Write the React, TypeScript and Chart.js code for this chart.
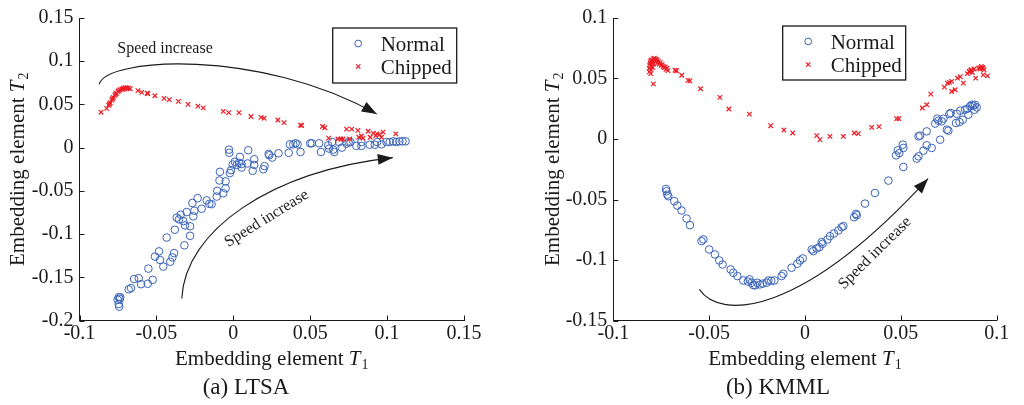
import React, { useEffect, useRef } from 'react';
import { Chart, registerables } from 'chart.js';

Chart.register(...registerables);

const SERIF = '"Liberation Serif", "Times New Roman", Times, serif';
const BLUE = '#3a63b8';
const RED = '#ec1c24';
const INK = '#1a1a1a';

type Pt = [number, number];

// ---------------- (a) LTSA ----------------
const ltsaXTicks = [-0.1, -0.05, 0, 0.05, 0.1, 0.15];
const ltsaXLabels = ['-0.1', '-0.05', '0', '0.05', '0.1', '0.15'];
const ltsaYTicks = [-0.2, -0.15, -0.1, -0.05, 0, 0.05, 0.1, 0.15];
const ltsaYLabels = ['-0.2', '-0.15', '-0.1', '-0.05', '0', '0.05', '0.1', '0.15'];

const ltsaNormal: Pt[] = [
  [-0.0745, -0.173], [-0.0738, -0.175], [-0.0745, -0.181], [-0.0742, -0.184], [-0.0735, -0.173],
  [-0.0752, -0.176], [-0.068, -0.164], [-0.0665, -0.1625], [-0.0645, -0.152], [-0.0615, -0.151],
  [-0.06, -0.158], [-0.0556, -0.1575], [-0.0524, -0.153], [-0.0552, -0.14], [-0.0509, -0.126],
  [-0.0483, -0.12], [-0.0476, -0.13], [-0.0455, -0.1376], [-0.041, -0.132], [-0.0396, -0.127],
  [-0.0385, -0.122], [-0.0433, -0.104], [-0.038, -0.095], [-0.0318, -0.113], [-0.0281, -0.102],
  [-0.0281, -0.091], [-0.0314, -0.09], [-0.0325, -0.085], [-0.0353, -0.083], [-0.0368, -0.081],
  [-0.0342, -0.0776], [-0.0303, -0.0745], [-0.026, -0.0795], [-0.0253, -0.073], [-0.0266, -0.064],
  [-0.0232, -0.0585], [-0.0206, -0.0707], [-0.0173, -0.061], [-0.0156, -0.065], [-0.0141, -0.0654],
  [-0.0108, -0.0566], [-0.0104, -0.05], [-0.0065, -0.0527], [-0.005, -0.047], [-0.009, -0.038],
  [-0.005, -0.039], [-0.0087, -0.028], [-0.0022, -0.0294], [-0.0015, -0.026], [-0.0028, -0.0023],
  [-0.0026, -0.006], [-0.0004, -0.0195], [0.001, -0.0164], [0.0022, -0.02], [0.0037, -0.0176],
  [0.0043, -0.0107], [0.0054, -0.023], [0.0054, -0.019], [0.0097, -0.003], [0.0093, -0.0183],
  [0.0126, -0.0268], [0.0136, -0.0134], [0.0136, -0.02], [0.0195, -0.025], [0.0203, -0.0214],
  [0.023, -0.0073], [0.0234, -0.0088], [0.0253, -0.0115], [0.0294, -0.0065], [0.036, -0.006],
  [0.0368, 0.0038], [0.039, 0.0038], [0.0405, 0.005], [0.0418, 0.0038], [0.0437, -0.005],
  [0.05, 0.005], [0.051, 0.005], [0.0558, 0.005], [0.057, -0.005], [0.0617, 0.0027],
  [0.0623, -0.0011], [0.0643, 0.0065], [0.065, -0.0023], [0.0656, -0.005], [0.0688, 0.0065],
  [0.0706, 0], [0.0736, 0.0046], [0.075, 0.0065], [0.0762, 0.0065], [0.08, 0.002],
  [0.0833, 0.002], [0.0833, 0.0065], [0.0887, 0.0034], [0.092, 0.0034], [0.0935, 0.0065],
  [0.0963, 0.0038], [0.0996, 0.0065], [0.1017, 0.0065], [0.104, 0.0073], [0.106, 0.0065],
  [0.108, 0.0073], [0.11, 0.0073], [0.112, 0.0073],
];

const ltsaChipped: Pt[] = [
  [-0.086, 0.041], [-0.0823, 0.0455], [-0.081, 0.049], [-0.08, 0.052], [-0.079, 0.055],
  [-0.078, 0.058], [-0.077, 0.0605], [-0.076, 0.063], [-0.075, 0.065], [-0.0736, 0.067],
  [-0.0725, 0.068], [-0.0714, 0.069], [-0.07, 0.0695], [-0.069, 0.069], [-0.068, 0.0688],
  [-0.067, 0.068], [-0.0805, 0.0505], [-0.0785, 0.0565], [-0.0765, 0.062], [-0.0745, 0.066],
  [-0.0718, 0.0675], [-0.0705, 0.068], [-0.062, 0.066], [-0.0595, 0.064], [-0.056, 0.063],
  [-0.0555, 0.0625], [-0.051, 0.06], [-0.045, 0.057], [-0.0416, 0.0555], [-0.0357, 0.0535],
  [-0.0294, 0.05], [-0.023, 0.048], [-0.0195, 0.046], [-0.0065, 0.042], [-0.003, 0.0405],
  [0.0037, 0.0405], [0.0115, 0.036], [0.018, 0.035], [0.02, 0.034], [0.029, 0.032],
  [0.033, 0.029], [0.0437, 0.026], [0.0444, 0.0256], [0.058, 0.0245], [0.0595, 0.023],
  [0.062, 0.011], [0.068, 0.01], [0.07, 0.01], [0.0714, 0.01], [0.0736, 0.0214],
  [0.077, 0.0214], [0.0757, 0.01], [0.081, 0.02], [0.0816, 0.012], [0.0833, 0.0134],
  [0.0844, 0.011], [0.0877, 0.019], [0.089, 0.012], [0.091, 0.0168], [0.0926, 0.014],
  [0.0935, 0.016], [0.095, 0.015], [0.0963, 0.012], [0.0974, 0.018], [0.1056, 0.016],
];

// ---------------- (b) KMML ----------------
const kmmlXTicks = [-0.1, -0.05, 0, 0.05, 0.1];
const kmmlXLabels = ['-0.1', '-0.05', '0', '0.05', '0.1'];
const kmmlYTicks = [-0.15, -0.1, -0.05, 0, 0.05, 0.1];
const kmmlYLabels = ['-0.15', '-0.1', '-0.05', '0', '0.05', '0.1'];

const kmmlNormal: Pt[] = [
  [-0.0725, -0.0413], [-0.0722, -0.0432], [-0.0718, -0.046], [-0.0713, -0.0473], [-0.0682, -0.0514],
  [-0.0666, -0.055], [-0.0644, -0.0591], [-0.0618, -0.0657], [-0.06, -0.0712], [-0.054, -0.0844],
  [-0.053, -0.083], [-0.05, -0.0913], [-0.047, -0.0954], [-0.0447, -0.1004], [-0.043, -0.1037],
  [-0.0388, -0.1078], [-0.0374, -0.1106], [-0.0353, -0.1133], [-0.0322, -0.1169], [-0.029, -0.116],
  [-0.0278, -0.1188], [-0.027, -0.1207], [-0.0249, -0.1188], [-0.0235, -0.1202], [-0.02, -0.1188],
  [-0.0191, -0.1169], [-0.016, -0.1169], [-0.0122, -0.1133], [-0.0113, -0.1114], [-0.007, -0.1064],
  [-0.004, -0.1031], [-0.0026, -0.1004], [-0.0012, -0.0987], [0.0035, -0.0913], [0.0043, -0.0927],
  [0.0061, -0.0905], [0.0075, -0.0894], [0.0092, -0.0866], [0.0117, -0.0831], [0.013, -0.0803],
  [0.0151, -0.0781], [0.0174, -0.0756], [0.02, -0.072], [0.0256, -0.0646], [0.027, -0.063],
  [0.0313, -0.0534], [0.0365, -0.0446], [0.0435, -0.0344], [0.0475, -0.0135], [0.0484, -0.0094],
  [0.0492, -0.0116], [0.051, -0.0047], [0.0513, -0.0074], [0.0513, -0.0231], [0.0583, -0.0162],
  [0.0592, -0.0143], [0.0592, 0.0022], [0.06, 0.0028], [0.0618, -0.0096], [0.0635, -0.0052],
  [0.0635, 0.0063], [0.0661, -0.0074], [0.0679, 0.0127], [0.069, 0.0168], [0.0696, 0.0151],
  [0.0705, -0.0006], [0.0713, 0.0146], [0.0722, 0.0168], [0.074, 0.0077], [0.0748, 0.0069],
  [0.0753, 0.0206], [0.076, 0.0215], [0.0788, 0.0132], [0.0792, 0.0209], [0.0806, 0.014],
  [0.081, 0.0234], [0.0823, 0.0159], [0.0835, 0.0242], [0.0847, 0.025], [0.0852, 0.0201],
  [0.0861, 0.027], [0.087, 0.0283], [0.0878, 0.0275], [0.0884, 0.0242], [0.0887, 0.0283],
  [0.0896, 0.0261], [-0.0298, -0.1178], [-0.026, -0.121], [-0.022, -0.1195], [-0.0176, -0.1172],
  [0.0087, -0.0852], [0.0191, -0.0729], [0.0266, -0.0619],
];

const kmmlChipped: Pt[] = [
  [-0.0812, 0.0555], [-0.0812, 0.0585], [-0.081, 0.061], [-0.0808, 0.063], [-0.0805, 0.0645],
  [-0.08, 0.0655], [-0.0795, 0.064], [-0.079, 0.0662], [-0.0786, 0.0668], [-0.0782, 0.065],
  [-0.078, 0.066], [-0.0775, 0.0645], [-0.0772, 0.0655], [-0.0768, 0.063], [-0.0765, 0.064],
  [-0.076, 0.062], [-0.0755, 0.063], [-0.075, 0.061], [-0.0745, 0.0615], [-0.074, 0.06],
  [-0.0735, 0.059], [-0.073, 0.0595], [-0.0725, 0.0575], [-0.072, 0.0585], [-0.0715, 0.0565],
  [-0.0803, 0.057], [-0.0798, 0.06], [-0.079, 0.062], [-0.0805, 0.054], [-0.0795, 0.059],
  [-0.0791, 0.0456], [-0.0678, 0.0568], [-0.067, 0.0564], [-0.0643, 0.0527], [-0.061, 0.0484],
  [-0.06, 0.048], [-0.0545, 0.0415], [-0.0444, 0.0344], [-0.0397, 0.0248], [-0.029, 0.0206],
  [-0.0179, 0.011], [-0.011, 0.0074], [-0.0064, 0.005], [0.0061, 0.0028], [0.0078, -0.0005],
  [0.013, 0.0022], [0.02, 0.0022], [0.0257, 0.005], [0.0278, 0.0044], [0.0348, 0.0096],
  [0.0386, 0.0102], [0.0478, 0.0168], [0.049, 0.0168], [0.0612, 0.0256], [0.0635, 0.0283],
  [0.0656, 0.0371], [0.0727, 0.0429], [0.0743, 0.0462], [0.0753, 0.0468], [0.0765, 0.0476],
  [0.0765, 0.0393], [0.0783, 0.0407], [0.0795, 0.0503], [0.081, 0.0514], [0.0826, 0.0462],
  [0.0847, 0.054], [0.0856, 0.0558], [0.0865, 0.0567], [0.0873, 0.055], [0.0882, 0.0578],
  [0.089, 0.0503], [0.0905, 0.0586], [0.0913, 0.0578], [0.0926, 0.0591], [0.0934, 0.0572],
  [0.093, 0.053], [0.0952, 0.0522], [0.086, 0.0555], [0.0868, 0.0572], [0.092, 0.06],
  [0.0915, 0.059], [0.0928, 0.0583],
];

const seriesNames = ['Normal', 'Chipped'];
const captions = ['(a) LTSA', '(b) KMML'];
const noteText = 'Speed increase';
const axisTitle = 'Embedding element ';

// ---------------- layout / annotation specs ----------------
interface Note { at: Pt; angle: number }
interface PanelSpec {
  normal: Pt[]; chipped: Pt[];
  xMin: number; xMax: number; yMin: number; yMax: number;
  xTicks: number[]; xLabels: string[]; yTicks: number[]; yLabels: string[];
  caption: string;
  pad: { left: number; right: number; top: number; bottom: number };
  yTitleX: number; captionX: number;
  legendAt: Pt; legendSize: Pt;
  arrows: Pt[][];
  notes: Note[];
}

const panels: PanelSpec[] = [
  {
    normal: ltsaNormal, chipped: ltsaChipped,
    xMin: -0.1, xMax: 0.15, yMin: -0.2, yMax: 0.15,
    xTicks: ltsaXTicks, xLabels: ltsaXLabels, yTicks: ltsaYTicks, yLabels: ltsaYLabels,
    caption: captions[0],
    pad: { left: 19.5, right: 48, top: 15, bottom: 34.5 },
    yTitleX: 17, captionX: 246,
    legendAt: [253.2, 10], legendSize: [124, 55],
    arrows: [
      [[-0.0872, 0.0732], [-0.0833, 0.1041], [0.0173, 0.1156], [0.0933, 0.0388]],
      [[-0.0335, -0.1746], [-0.0314, -0.0963], [0.0238, -0.0276], [0.1037, -0.0116]],
    ],
    notes: [
      { at: [-0.0444, 0.1144], angle: 0 },
      { at: [0.0217, -0.082], angle: -31.8 },
    ],
  },
  {
    normal: kmmlNormal, chipped: kmmlChipped,
    xMin: -0.1, xMax: 0.1, yMin: -0.15, yMax: 0.1,
    xTicks: kmmlXTicks, xLabels: kmmlXLabels, yTicks: kmmlYTicks, yLabels: kmmlYLabels,
    caption: captions[1],
    pad: { left: 41.3, right: 27.3, top: 16.5, bottom: 34.5 },
    yTitleX: 40, captionX: 266,
    legendAt: [169.4, 8], legendSize: [123, 54],
    arrows: [
      [[-0.0551, -0.1243], [-0.0443, -0.1496], [-0.0026, -0.1479], [0.0642, -0.0328]],
    ],
    notes: [{ at: [0.0365, -0.0943], angle: -44.6 }],
  },
];

function drawAxisTitle(ctx: CanvasRenderingContext2D, cx: number, cy: number, sub: string, vertical: boolean) {
  ctx.save();
  ctx.translate(cx, cy);
  if (vertical) ctx.rotate(-Math.PI / 2);
  const f1 = `21px ${SERIF}`;
  const f2 = `italic 21px ${SERIF}`;
  const f3 = `14px ${SERIF}`;
  ctx.font = f1; const w1 = ctx.measureText(axisTitle).width;
  ctx.font = f2; const w2 = ctx.measureText('T').width;
  ctx.font = f3; const w3 = ctx.measureText(sub).width;
  const total = w1 + w2 + 1 + w3;
  let x = -total / 2;
  ctx.fillStyle = INK;
  ctx.textAlign = 'left';
  ctx.textBaseline = 'alphabetic';
  ctx.font = f1; ctx.fillText(axisTitle, x, 7); x += w1;
  ctx.font = f2; ctx.fillText('T', x, 7); x += w2 + 1;
  ctx.font = f3; ctx.fillText(sub, x, 11);
  ctx.restore();
}

function makeDecor(spec: PanelSpec) {
  return {
    id: 'decor',
    afterDraw(chart: any) {
      const { ctx, chartArea: ca } = chart;
      const xs = chart.scales.x;
      const ys = chart.scales.y;
      const px = (p: Pt): Pt => [xs.getPixelForValue(p[0]), ys.getPixelForValue(p[1])];
      ctx.save();

      // inward tick marks
      ctx.strokeStyle = INK;
      ctx.lineWidth = 1;
      spec.xTicks.forEach((v) => {
        const x = Math.round(xs.getPixelForValue(v)) + 0.5;
        ctx.beginPath(); ctx.moveTo(x, ca.bottom); ctx.lineTo(x, ca.bottom - 5); ctx.stroke();
      });
      spec.yTicks.forEach((v) => {
        const y = Math.round(ys.getPixelForValue(v)) + 0.5;
        ctx.beginPath(); ctx.moveTo(ca.left, y); ctx.lineTo(ca.left + 5, y); ctx.stroke();
      });

      // arrows
      ctx.strokeStyle = INK;
      ctx.fillStyle = INK;
      ctx.lineWidth = 1.1;
      spec.arrows.forEach((a) => {
        const [p0, p1, p2, p3] = a.map(px);
        ctx.beginPath();
        ctx.moveTo(p0[0], p0[1]);
        ctx.bezierCurveTo(p1[0], p1[1], p2[0], p2[1], p3[0], p3[1]);
        ctx.stroke();
        const ang = Math.atan2(p3[1] - p2[1], p3[0] - p2[0]);
        const L = 15, W = 5.5;
        const c = Math.cos(ang), s = Math.sin(ang);
        ctx.beginPath();
        ctx.moveTo(p3[0], p3[1]);
        ctx.lineTo(p3[0] - L * c + W * s, p3[1] - L * s - W * c);
        ctx.lineTo(p3[0] - L * c - W * s, p3[1] - L * s + W * c);
        ctx.closePath();
        ctx.fill();
      });

      // notes
      ctx.font = `16px ${SERIF}`;
      ctx.textAlign = 'center';
      ctx.textBaseline = 'middle';
      spec.notes.forEach((n) => {
        const [x, y] = px(n.at);
        ctx.save();
        ctx.translate(x, y);
        ctx.rotate((n.angle * Math.PI) / 180);
        ctx.fillText(noteText, 0, 0);
        ctx.restore();
      });

      // legend
      const bx = ca.left + spec.legendAt[0];
      const by = ca.top + spec.legendAt[1];
      ctx.fillStyle = '#ffffff';
      ctx.fillRect(bx, by, spec.legendSize[0], spec.legendSize[1]);
      ctx.strokeStyle = INK;
      ctx.lineWidth = 1.3;
      ctx.strokeRect(bx, by, spec.legendSize[0], spec.legendSize[1]);
      ctx.strokeStyle = BLUE;
      ctx.lineWidth = 1;
      ctx.beginPath(); ctx.arc(bx + 25.5, by + 15.5, 3.4, 0, Math.PI * 2); ctx.stroke();
      ctx.strokeStyle = RED;
      ctx.lineWidth = 1.2;
      const mx = bx + 25.5, my = by + 38.5, r = 2.2;
      ctx.beginPath();
      ctx.moveTo(mx - r, my - r); ctx.lineTo(mx + r, my + r);
      ctx.moveTo(mx - r, my + r); ctx.lineTo(mx + r, my - r);
      ctx.stroke();
      ctx.fillStyle = INK;
      ctx.font = `21px ${SERIF}`;
      ctx.textAlign = 'left';
      ctx.textBaseline = 'alphabetic';
      ctx.fillText(seriesNames[0], bx + 48, by + 23);
      ctx.fillText(seriesNames[1], bx + 48, by + 46);

      // axis titles
      drawAxisTitle(ctx, (ca.left + ca.right) / 2, 358, '1', false);
      drawAxisTitle(ctx, spec.yTitleX, (ca.top + ca.bottom) / 2, '2', true);

      // caption
      ctx.fillStyle = INK;
      ctx.font = `23px ${SERIF}`;
      ctx.textAlign = 'center';
      ctx.textBaseline = 'alphabetic';
      ctx.fillText(spec.caption, spec.captionX, 394);

      ctx.restore();
    },
  };
}

function buildConfig(spec: PanelSpec): any {
  const tickFont = { family: SERIF, size: 20 };
  return {
    type: 'scatter',
    data: {
      datasets: [
        {
          label: seriesNames[0],
          data: spec.normal.map(([x, y]) => ({ x, y })),
          pointStyle: 'circle',
          pointRadius: 3.8,
          borderColor: BLUE,
          backgroundColor: 'rgba(0,0,0,0)',
          borderWidth: 1,
          order: 2,
        },
        {
          label: seriesNames[1],
          data: spec.chipped.map(([x, y]) => ({ x, y })),
          pointStyle: 'crossRot',
          pointRadius: 3.2,
          borderColor: RED,
          backgroundColor: RED,
          borderWidth: 1.2,
          order: 1,
        },
      ],
    },
    options: {
      animation: false,
      responsive: false,
      maintainAspectRatio: false,
      events: [],
      layout: { padding: spec.pad },
      plugins: { legend: { display: false }, tooltip: { enabled: false }, title: { display: false } },
      scales: {
        x: {
          type: 'linear',
          min: spec.xMin,
          max: spec.xMax,
          afterBuildTicks: (s: any) => { s.ticks = spec.xTicks.map((v) => ({ value: v })); },
          afterFit: (s: any) => { s.height = 50; },
          grid: { display: false, drawTicks: false },
          border: { display: true, color: INK, width: 1 },
          ticks: {
            color: INK, font: tickFont, padding: 1, maxRotation: 0, autoSkip: false,
            callback: (_v: any, i: number) => spec.xLabels[i],
          },
        },
        y: {
          type: 'linear',
          min: spec.yMin,
          max: spec.yMax,
          afterBuildTicks: (s: any) => { s.ticks = spec.yTicks.map((v) => ({ value: v })); },
          afterFit: (s: any) => { s.width = 60; },
          grid: { display: false, drawTicks: false },
          border: { display: true, color: INK, width: 1 },
          ticks: {
            color: INK, font: tickFont, padding: 6, autoSkip: false,
            callback: (_v: any, i: number) => spec.yLabels[i],
          },
        },
      },
    },
    plugins: [makeDecor(spec)],
  };
}

function Panel({ spec, left }: { spec: PanelSpec; left: number }) {
  const ref = useRef<HTMLCanvasElement>(null);
  useEffect(() => {
    const chart = new Chart(ref.current as HTMLCanvasElement, buildConfig(spec));
    return () => chart.destroy();
  }, [spec]);
  return (
    <canvas
      ref={ref}
      width={512}
      height={405}
      style={{ position: 'absolute', left, top: 0, width: 512, height: 405, display: 'block' }}
    />
  );
}

export default function App() {
  return (
    <div style={{ position: 'absolute', left: 0, top: 0, width: 1024, height: 405, background: '#ffffff', overflow: 'hidden' }}>
      <Panel spec={panels[0]} left={0} />
      <Panel spec={panels[1]} left={512} />
    </div>
  );
}
